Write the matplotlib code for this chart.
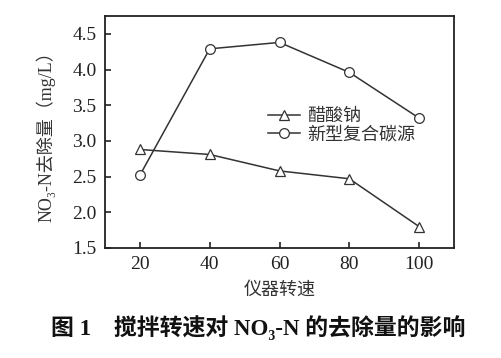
import matplotlib
matplotlib.use('Agg')
import matplotlib.pyplot as plt

# 数据
speed = [20, 40, 60, 80, 100]
acetate = [2.88, 2.81, 2.58, 2.47, 1.80]
new_carbon = [2.52, 4.29, 4.38, 3.96, 3.32]
yticks = [1.5, 2.0, 2.5, 3.0, 3.5, 4.0, 4.5]

fam = ['Liberation Serif', 'Noto Sans CJK SC']
plt.rcParams['font.family'] = fam

fig = plt.figure(figsize=(5.02, 3.58), dpi=100)
ax = fig.add_axes([105/502, 1 - 248/358, 349/502, 232/358])

ax.plot(speed, acetate, color='#333333', lw=1.1, marker='^', ms=7,
        mfc='white', mec='#333333', mew=0.9, label='醋酸钠')
ax.plot(speed, new_carbon, color='#333333', lw=1.1, marker='o', ms=7,
        mfc='white', mec='#333333', mew=0.9, label='新型复合碳源')

ax.set_xlim(10, 110)
ax.set_ylim(1.5, 4.75)
ax.set_xticks(speed)
ax.set_yticks(yticks)
ax.set_yticklabels([f'{v:.1f}' for v in yticks])
ax.tick_params(direction='in', length=4, width=1.2, labelsize=14,
               colors='#222222', pad=6)
for s in ax.spines.values():
    s.set_linewidth(1.3)
    s.set_color('#222222')

ax.set_xlabel('仪器转速', fontsize=13, color='#333333', labelpad=6)
ax.set_ylabel('NO₃-N去除量（mg/L）', fontsize=13, color='#333333', labelpad=12)

leg = ax.legend(loc='upper left', bbox_to_anchor=(0.445, 0.635), frameon=False,
                fontsize=13, handlelength=1.8, handletextpad=0.4,
                labelspacing=0.1, borderaxespad=0)
for t in leg.get_texts():
    t.set_color('#333333')

fig.text(0.515, 1 - 328/358, '图 1　搅拌转速对 NO₃-N 的去除量的影响',
         ha='center', va='center', fontsize=16.5, fontweight='bold', color='#111111')

fig.savefig('out.png', dpi=100)
